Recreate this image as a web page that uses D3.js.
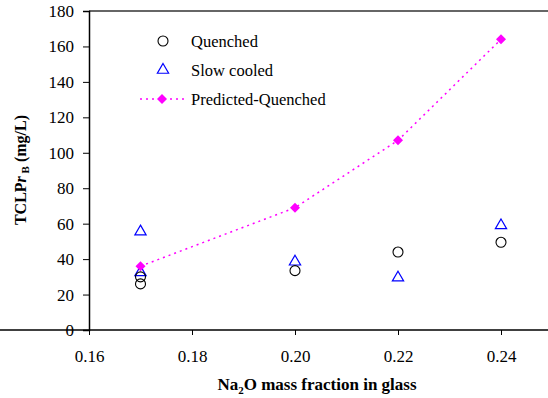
<!DOCTYPE html>
<html><head><meta charset="utf-8">
<script src="https://cdn.jsdelivr.net/npm/d3@7"></script>
</head><body style="margin:0">
<svg id="c" width="548" height="398"></svg>
<script>
const quenchedX = [0.17, 0.17, 0.20, 0.22, 0.24];
const quenchedY = [26, 30, 33.5, 44, 49.5];
const slowX = [0.17, 0.17, 0.20, 0.22, 0.24];
const slowY = [55.5, 32.5, 38.5, 29.5, 59];
const predX = [0.17, 0.20, 0.22, 0.24];
const predY = [36, 69, 107, 164];
const xTicks = [0.16, 0.18, 0.20, 0.22, 0.24];
const yTicks = [0, 20, 40, 60, 80, 100, 120, 140, 160, 180];
const seriesNames = ["Quenched", "Slow cooled", "Predicted-Quenched"];
const FONT = "Liberation Serif";

const svg = d3.select("#c");
const x = d3.scaleLinear().domain([0.16, 0.25]).range([89, 552.5]);
const y = d3.scaleLinear().domain([0, 180]).range([330, 11]);

svg.append("line").attr("x1", x(0.16)).attr("x2", 548).attr("y1", y(180)).attr("y2", y(180))
  .attr("stroke", "#333").attr("stroke-width", 1.6);

const xAxis = svg.append("g").attr("transform", `translate(0,${y(0)})`)
  .call(d3.axisBottom(x).tickValues(xTicks).tickFormat(d3.format(".2f")).tickSizeOuter(0).tickSize(5).tickPadding(15));
const yAxis = svg.append("g").attr("transform", `translate(${x(0.16)},0)`)
  .call(d3.axisLeft(y).tickValues(yTicks).tickSizeOuter(0).tickSize(6).tickPadding(9));
[xAxis, yAxis].forEach(g => {
  g.attr("font-family", null).attr("font-size", null);
  g.select(".domain").attr("stroke", "#000").attr("stroke-width", 1.5);
  g.selectAll(".tick line").attr("stroke", "#000").attr("stroke-width", 1);
  g.selectAll(".tick text").style("font-family", FONT).attr("font-size", 17).attr("fill", "#000");
});
xAxis.select(".domain").attr("d", `M0,0H${552.5}`);

const line = d3.line().x((d, i) => x(predX[i])).y(d => y(d));
svg.append("path").datum(predY).attr("d", line).attr("fill", "none")
  .attr("stroke", "#ff00ff").attr("stroke-width", 1.5).attr("stroke-dasharray", "2,4");

const tri = d3.symbol().type(d3.symbolTriangle).size(55);
const sq = d3.symbol().type(d3.symbolSquare).size(50);

svg.append("g").selectAll("path").data(slowY).join("path")
  .attr("d", tri).attr("transform", (d, i) => `translate(${x(slowX[i])},${y(d)})`)
  .attr("fill", "none").attr("stroke", "#0000ff").attr("stroke-width", 1.2);
svg.append("g").selectAll("circle").data(quenchedY).join("circle")
  .attr("cx", (d, i) => x(quenchedX[i])).attr("cy", d => y(d)).attr("r", 5)
  .attr("fill", "none").attr("stroke", "#000").attr("stroke-width", 1.1);
svg.append("g").selectAll("path").data(predY).join("path")
  .attr("d", sq).attr("transform", (d, i) => `translate(${x(predX[i])},${y(d)}) rotate(45)`)
  .attr("fill", "#ff00ff");

const lg = svg.append("g");
lg.append("circle").attr("cx", 163).attr("cy", 41).attr("r", 5).attr("fill", "none").attr("stroke", "#000").attr("stroke-width", 1.1);
lg.append("path").attr("d", tri).attr("transform", "translate(163,70)").attr("fill", "none").attr("stroke", "#0000ff").attr("stroke-width", 1.2);
lg.append("line").attr("x1", 140).attr("x2", 184).attr("y1", 99).attr("y2", 99).attr("stroke", "#ff00ff").attr("stroke-width", 1.5).attr("stroke-dasharray", "2,4");
lg.append("path").attr("d", sq).attr("transform", "translate(162,99) rotate(45)").attr("fill", "#ff00ff");
[41, 70, 99].forEach((yy, i) => {
  lg.append("text").attr("x", 191).attr("y", yy + 5.5).attr("font-size", 16.5).style("font-family", FONT).text(seriesNames[i]);
});

const xt = svg.append("text").attr("x", 317).attr("y", 390).attr("text-anchor", "middle")
  .attr("font-size", 17).attr("font-weight", "bold").style("font-family", FONT);
xt.append("tspan").text("Na");
xt.append("tspan").attr("font-size", 11).attr("dy", 4).text("2");
xt.append("tspan").attr("dy", -4).text("O mass fraction in glass");

const yt = svg.append("text").attr("transform", "translate(26,170) rotate(-90)").attr("text-anchor", "middle")
  .attr("font-size", 16).attr("font-weight", "bold").style("font-family", FONT);
yt.append("tspan").text("TCLP");
yt.append("tspan").attr("font-style", "italic").text("r");
yt.append("tspan").attr("font-size", 11).attr("dy", 3).text(" B");
yt.append("tspan").attr("dy", -3).text(" (mg/L)");
</script>
</body></html>
